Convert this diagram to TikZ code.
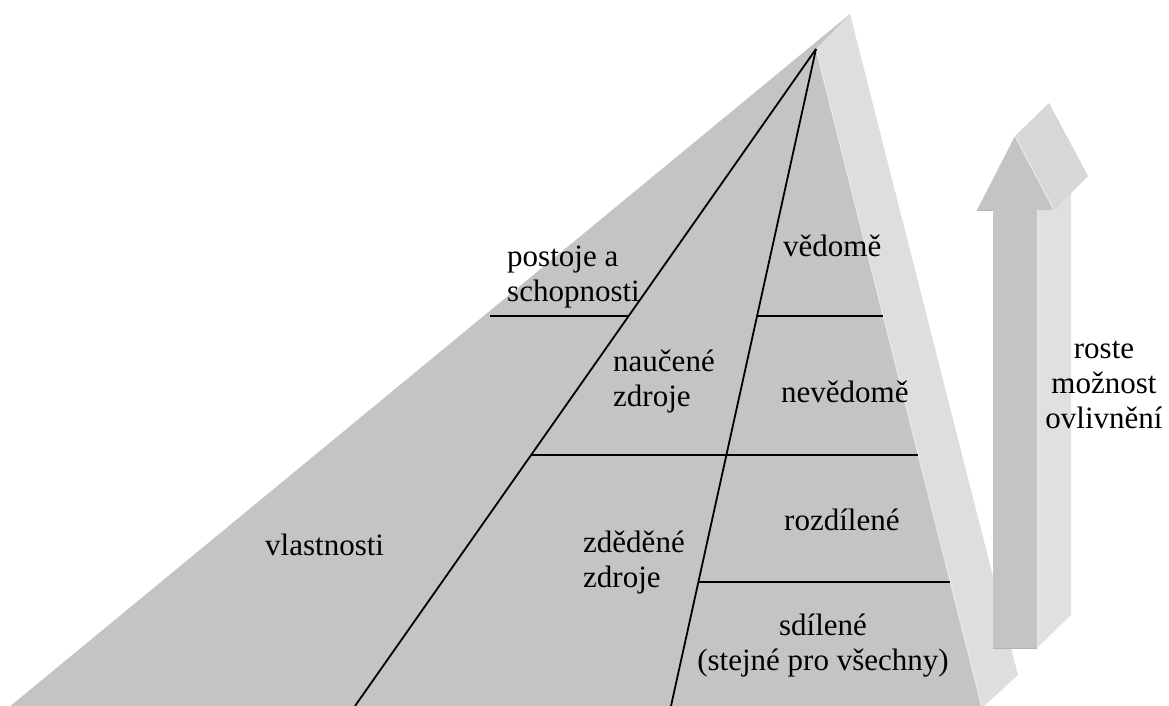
\documentclass[tikz,border=0pt]{standalone}
\usepackage{fontspec}
\setmainfont{Liberation Serif}
\definecolor{frontgray}{HTML}{C4C4C4}
\definecolor{sidegray}{HTML}{DEDEDE}
\definecolor{headside}{HTML}{D7D7D7}
\definecolor{shaftside}{HTML}{E0E0E0}
\definecolor{edgelight}{HTML}{EAEAEA}
\definecolor{edgedark}{HTML}{B2B2B2}
\begin{document}
\begin{tikzpicture}[x=1pt,y=-1pt,
  lbl/.style={font=\fontsize{31}{35}\selectfont, inner sep=0pt, text=black},
  divider/.style={line width=1.8pt, black}]
\useasboundingbox (0,0) rectangle (1169,706);
% pyramid points
\coordinate (apex) at (816,49);
\coordinate (top) at (850,14);
\coordinate (sidebot) at (1018,675);
\coordinate (frontbr) at (982,708);
\coordinate (leftbot) at (8,708);
\coordinate (l1b) at (355,706);
\coordinate (l2b) at (671,706);
\begin{scope}
\clip (0,0) rectangle (1169,706);
\fill[sidegray] (apex) -- (top) -- (sidebot) -- (frontbr) -- cycle;
\fill[frontgray] (top) -- (apex) -- (frontbr) -- (leftbot) -- cycle;
\draw[edgelight, line width=1pt] (apex) -- (frontbr);
% dividing lines
\draw[divider] (apex) -- (l1b);
\draw[divider] (apex) -- (l2b);
\coordinate (h1a) at (490,316);
\coordinate (h1b) at (intersection of apex--l1b and 0,316--100,316);
\coordinate (h1c) at (intersection of apex--l2b and 0,316--100,316);
\coordinate (h1d) at (intersection of apex--frontbr and 0,316--100,316);
\coordinate (h2a) at (intersection of apex--l1b and 0,455--100,455);
\coordinate (h2b) at (intersection of apex--frontbr and 0,455--100,455);
\coordinate (h3a) at (intersection of apex--l2b and 0,582--100,582);
\coordinate (h3b) at (intersection of apex--frontbr and 0,582--100,582);
\draw[divider] (h1a) -- (h1b);
\draw[divider] (h1c) -- (h1d);
\draw[divider] (h2a) -- (h2b);
\draw[divider] (h3a) -- (h3b);
\end{scope}
% arrow
\coordinate (sbl) at (993,648);
\coordinate (sbr) at (1037,648);
\coordinate (stl) at (993,210);
\coordinate (str) at (1037,210);
\coordinate (hl) at (977,210);
\coordinate (hr) at (1054,210);
\coordinate (tip) at (1015,136);
\coordinate (tipb) at (1049,103);
\coordinate (hrb) at (1088,176);
\coordinate (strb) at (1071,176);
\coordinate (sbrb) at (1071,615);
\fill[shaftside] (str) -- (strb) -- (sbrb) -- (sbr) -- cycle;
\fill[headside] (tip) -- (tipb) -- (hrb) -- (hr) -- cycle;
\fill[frontgray] (sbl) -- (stl) -- (hl) -- (tip) -- (hr) -- (str) -- (sbr) -- cycle;
\draw[edgelight, line width=1pt] (tip) -- (hr);
\draw[edgelight, line width=1pt] (str) -- (sbr);
\draw[edgedark, line width=1pt] (sbl) -- (sbr);
\draw[edgedark, line width=1pt] (hl) -- (stl);
% labels (anchor base = baseline of the last line)
\node[lbl, anchor=base west, align=left] (postoje) at (507,301) {postoje a\\schopnosti};
\node[lbl, anchor=base west, align=left] (naucene) at (613,406) {naučené\\zdroje};
\node[lbl, anchor=base west, align=left] (zdedene) at (583,587) {zděděné\\zdroje};
\node[lbl, anchor=base west] (vlastnosti) at (265,555) {vlastnosti};
\node[lbl, anchor=base west] (vedome) at (783,256) {vědomě};
\node[lbl, anchor=base west] (nevedome) at (781,402) {nevědomě};
\node[lbl, anchor=base west] (rozdilene) at (784,530) {rozdílené};
\node[lbl, anchor=base, align=center] (sdilene) at (823,670) {sdílené\\(stejné pro všechny)};
\node[lbl, anchor=base, align=center] (roste) at (1104,428) {roste\\možnost\\ovlivnění};
\end{tikzpicture}
\end{document}
